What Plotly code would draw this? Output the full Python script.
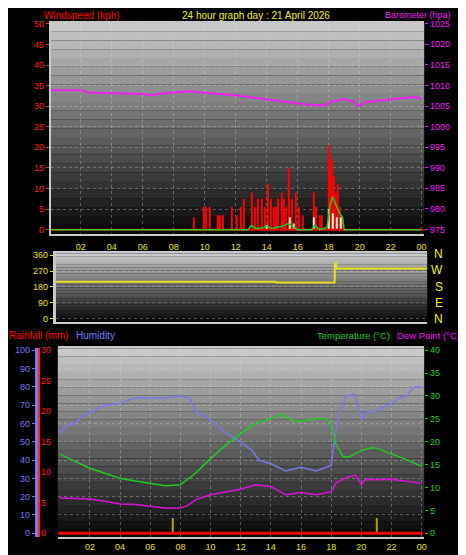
import plotly.graph_objects as go

# ---- wind (top panel) ----
gust_hours = [9.3, 9.95, 10.05, 10.3, 10.85, 11.0, 11.2, 11.75, 12.05, 12.35, 12.5, 13.05,
              13.25, 13.45, 13.7, 13.9, 14.1, 14.25, 14.45, 14.6, 14.75, 14.95, 15.1, 15.25,
              15.45, 15.65, 15.85, 16.05, 16.35, 17.05, 17.2, 17.4, 17.55, 18.0, 18.1, 18.22,
              18.35, 18.48, 18.62, 18.75, 18.85]
gust_kph = [3, 5.5, 5.5, 5.5, 3.5, 3.5, 3.5, 5.5, 3.5, 5.5, 7.5, 9,
            5.5, 7.5, 7.5, 5.5, 11, 7.5, 5.5, 5.5, 7.5, 9, 7.5, 5.5,
            15, 7.5, 9, 5.5, 3.5, 9, 5.5, 3.5, 3.5, 20.5, 18.5, 17,
            13, 9, 11, 5.5, 3]

lull_hours = [14.0, 15.5, 15.75, 17.05, 18.0, 18.3, 18.5, 18.8]
lull_kph = [1.2, 3, 1.5, 3, 5, 4, 3, 3]

avg_hours = [0, 12.8, 13.0, 13.3, 13.8, 14.0, 14.3, 15.0, 15.4, 15.7, 16.0, 16.9, 17.1, 17.4,
             17.9, 18.1, 18.25, 18.5, 18.7, 18.9, 19.0, 24]
avg_kph = [0, 0, 1, 0.3, 0.5, 0.9, 0.3, 0.8, 1.5, 0.6, 0, 0, 1.1, 0,
           0.5, 6, 8, 6, 4, 3, 0, 0]

baro_hours = [0, 2, 2.5, 4, 6, 6.5, 7, 8, 9, 10, 12, 13, 14, 15, 16, 17, 17.8, 18.1, 18.3,
              19, 19.3, 19.6, 19.9, 20.1, 20.4, 21.5, 22.5, 23.5, 24]
baro_hpa = [1008.8, 1008.8, 1008.3, 1008.1, 1007.9, 1007.6, 1007.9, 1008.3, 1008.6, 1008.2,
            1007.6, 1007.1, 1006.6, 1006.1, 1005.7, 1005.2, 1005.2, 1005.9, 1006.1,
            1006.7, 1006.3, 1006.2, 1005.0, 1005.3, 1006.0, 1006.4, 1006.9, 1007.2, 1006.8]

# ---- wind direction (middle panel) ----
dir_hours = [0.45, 14.6, 14.65, 18.4, 18.42, 18.5, 18.52, 24.36]
dir_deg = [210, 210, 205, 205, 315, 315, 285, 285]

# ---- humidity / temperature (bottom panel) ----
hum_hours = [0, 0.5, 1, 1.5, 2, 3, 4, 5, 6, 7, 8, 8.6, 9, 10, 11, 12, 12.8, 13.2, 14, 15,
             16, 17, 18, 18.2, 18.5, 19, 19.5, 19.8, 20, 20.3, 21, 21.5, 22, 22.5, 23, 23.5, 24]
humidity = [55, 59, 60, 64, 66, 70, 71, 74, 74, 74, 75, 74, 67, 62, 55, 50, 45, 40, 38, 34,
            36, 34, 37, 50, 65, 75, 76, 70, 62, 66, 67, 69, 71, 74, 75, 80, 80]

temp_hours = [0, 1, 2, 3, 4, 5, 6, 7, 8, 9, 10, 11, 12, 13, 14, 14.7, 15.5, 16, 17, 17.7,
              18, 18.3, 18.8, 19.2, 20, 20.7, 21, 22, 23, 24]
temperature = [17.3, 15.8, 14.2, 13.1, 12.0, 11.4, 10.9, 10.4, 10.6, 13.1, 16.3, 19.2, 21.7,
               24.0, 25.0, 26.0, 24.6, 24.5, 25.0, 25.0, 23.9, 19.6, 16.7, 16.7, 18.1, 18.7,
               18.6, 17.4, 16.1, 14.6]

dew_hours = [0, 2, 3, 4, 5, 6, 7, 8, 8.5, 9, 10, 11, 12, 13, 14, 15, 16, 17, 18, 18.3, 19,
             19.6, 20, 20.3, 21, 22, 23, 24]
dew_point = [7.7, 7.5, 7.0, 6.4, 6.3, 5.9, 5.5, 5.5, 6.1, 7.3, 8.4, 9.0, 9.6, 10.6, 10.2, 8.4,
             8.9, 8.4, 9.1, 10.9, 12.2, 12.7, 10.6, 11.8, 11.7, 11.8, 11.3, 10.9]

rain_hours = [7.5, 21.0]
rain_mm = [2.5, 2.5]

hour_ticks = [2, 4, 6, 8, 10, 12, 14, 16, 18, 20, 22, 24]
hour_labels = ["02", "04", "06", "08", "10", "12", "14", "16", "18", "20", "22", "00"]

W, H = 466, 555
FONT = "Liberation Sans"


def px_x(p):
    return p / W


def px_y(p):
    return 1 - p / H


fig = go.Figure()

fig.add_trace(go.Bar(x=gust_hours, y=gust_kph, width=0.07, marker_color="#ff0000",
                     marker_line_width=0, xaxis="x", yaxis="y"))
fig.add_trace(go.Bar(x=lull_hours, y=lull_kph, width=0.07, marker_color="#d8f0d8",
                     marker_line_width=0, xaxis="x", yaxis="y"))
fig.add_trace(go.Scatter(x=[0.06, 24.17], y=[0, 0], mode="lines",
                         line=dict(color="#ff0000", width=2), xaxis="x", yaxis="y"))
fig.add_trace(go.Scatter(x=avg_hours, y=avg_kph, mode="lines",
                         line=dict(color="#22cc22", width=1.5), xaxis="x", yaxis="y"))
fig.add_trace(go.Scatter(x=baro_hours, y=baro_hpa, mode="lines",
                         line=dict(color="#ee22ee", width=2), xaxis="x", yaxis="y2"))

fig.add_trace(go.Scatter(x=dir_hours, y=dir_deg, mode="lines",
                         line=dict(color="#e8e020", width=2), xaxis="x2", yaxis="y3"))

fig.add_trace(go.Bar(x=rain_hours, y=rain_mm, width=0.06, marker_color="#b0a000",
                     marker_line_width=0, xaxis="x3", yaxis="y5"))
fig.add_trace(go.Scatter(x=[-0.1, 24.1], y=[0, 0], mode="lines",
                         line=dict(color="#ff0000", width=3), xaxis="x3", yaxis="y5"))
fig.add_trace(go.Scatter(x=hum_hours, y=humidity, mode="lines",
                         line=dict(color="#7878f0", width=1.5), xaxis="x3", yaxis="y4"))
fig.add_trace(go.Scatter(x=temp_hours, y=temperature, mode="lines",
                         line=dict(color="#22cc22", width=1.5), xaxis="x3", yaxis="y6"))
fig.add_trace(go.Scatter(x=dew_hours, y=dew_point, mode="lines",
                         line=dict(color="#dd11dd", width=1.5), xaxis="x3", yaxis="y6"))

# gradient backgrounds as stacked bands
shapes = []
panels = [(43, 418, 11, 224), (48, 421, 244, 313), (50, 418, 340, 531)]
n = 24
for x0, x1, y0, y1 in panels:
    for i in range(n):
        t = i / (n - 1)
        g = int(200 - 190 * t)
        ya = y0 + (y1 - y0) * i / n
        yb = y0 + (y1 - y0) * (i + 1) / n
        shapes.append(dict(type="rect", xref="paper", yref="paper", layer="below",
                           x0=px_x(x0), x1=px_x(x1), y0=px_y(yb), y1=px_y(ya),
                           fillcolor=f"rgb({g},{g},{g})", line_width=0))

grid = dict(showgrid=True, gridcolor="rgba(215,215,215,0.35)", griddash="dot", gridwidth=1)
tickfont = dict(family=FONT, size=9)

fig.update_layout(
    width=W, height=H, margin=dict(l=0, r=0, t=0, b=0),
    paper_bgcolor="black", plot_bgcolor="rgba(0,0,0,0)",
    showlegend=False, barmode="overlay", shapes=shapes,
    xaxis=dict(domain=[px_x(43), px_x(418)], range=[0.06, 24.17], anchor="y",
               tickvals=hour_ticks, ticktext=hour_labels, tickfont=dict(tickfont, color="#e8e020"),
               ticklabelstandoff=4,
               showline=True, linecolor="#c8c8c8", linewidth=2, mirror=True, **grid),
    yaxis=dict(domain=[px_y(224), px_y(11)], range=[-0.96, 50.24], dtick=5,
               tickfont=dict(tickfont, color="#ff2020"), ticks="outside", tickcolor="#ff2020",
               ticklen=3, showline=True, linecolor="#c8c8c8", linewidth=2, zeroline=False, **grid),
    yaxis2=dict(overlaying="y", side="right", range=[974.0, 1025.2], dtick=5, anchor="x",
                tickfont=dict(tickfont, color="#ee22ee"), ticks="outside", tickcolor="#ee22ee",
                ticklen=3, showgrid=False, zeroline=False),
    xaxis2=dict(domain=[px_x(48), px_x(421)], range=[0.45, 24.36], anchor="y3",
                showticklabels=False, ticks="",
                showline=True, linecolor="#c8c8c8", linewidth=2, mirror=True, showgrid=False),
    yaxis3=dict(domain=[px_y(313), px_y(244)], range=[-17, 371], tickvals=[0, 90, 180, 270, 360],
                tickfont=dict(tickfont, color="#e8e020"), ticks="outside", tickcolor="#e8e020",
                ticklen=3, showline=True, linecolor="#c8c8c8", linewidth=3, zeroline=False,
                anchor="x2", **grid),
    xaxis3=dict(domain=[px_x(50), px_x(418)], range=[-0.13, 24.17], anchor="y4",
                tickvals=hour_ticks, ticktext=hour_labels, tickfont=dict(tickfont, color="#e8e020"),
                showline=True, linecolor="#c8c8c8", linewidth=2, mirror=True, **grid),
    yaxis4=dict(domain=[px_y(531), px_y(340)], range=[-2.2, 101.1], dtick=10, anchor="free",
                position=px_x(28), tickfont=dict(tickfont, color="#7878f0"), ticks="outside",
                tickcolor="#7878f0", ticklen=3, showline=True, linecolor="#7878f0", linewidth=3,
                zeroline=False, **grid),
    yaxis5=dict(overlaying="y4", range=[-0.65, 30.3], tickvals=[0, 5, 10, 15, 20, 25, 30],
                anchor="free", position=px_x(31), side="left", ticklabelposition="inside",
                ticklabeloverflow="allow", tickfont=dict(tickfont, color="#ff2020"),
                ticks="", showline=True,
                linecolor="#ff2020", linewidth=2, showgrid=False, zeroline=False),
    yaxis6=dict(overlaying="y4", side="right", range=[-0.87, 40.4], dtick=5, anchor="x3",
                tickfont=dict(tickfont, color="#22cc22"), ticks="outside", tickcolor="#22cc22",
                ticklen=3, showgrid=False, zeroline=False),
)

labels = [
    ("Windspeed (kph)", 35, 4, "#ff0000", "left", 10),
    ("24 hour graph day : 21 April 2026", 249, 4, "#f0f020", "center", 10),
    ("Barometer (hpa)", 446, 3, "#ee22ee", "right", 9),
    ("Rainfall (mm)", 0, 327, "#ff0000", "left", 10),
    ("Humidity", 67, 327, "#7878f0", "left", 10),
    ("Temperature (°C)", 385, 327, "#22cc22", "right", 9.5),
    ("Dew Point (°C)", 455, 327, "#ee22ee", "right", 9.5),
]
for text, x, y, color, anchor, size in labels:
    fig.add_annotation(text=text, x=px_x(x), y=px_y(y), xref="paper", yref="paper",
                       xanchor=anchor, yanchor="middle", showarrow=False, borderpad=0,
                       font=dict(family=FONT, size=size, color=color))

for i, c in enumerate(["N", "W", "S", "E", "N"]):
    fig.add_annotation(text=c, x=px_x(439), y=px_y(245 + i * 16.3), xref="paper", yref="paper",
                       showarrow=False, font=dict(family=FONT, size=12, color="#f0f020"))

fig.write_html("out.html")
